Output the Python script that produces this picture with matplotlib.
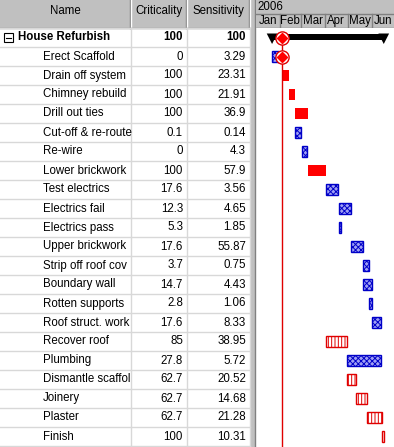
import matplotlib
matplotlib.use("Agg")
import matplotlib.pyplot as plt
from matplotlib.patches import Rectangle, Polygon

plt.rcParams['font.family'] = ['Liberation Sans', 'DejaVu Sans']
plt.rcParams['hatch.linewidth'] = 0.7

# table data
names = ['House Refurbish', 'Erect Scaffold', 'Drain off system', 'Chimney rebuild',
         'Drill out ties', 'Cut-off & re-route', 'Re-wire', 'Lower brickwork',
         'Test electrics', 'Electrics fail', 'Electrics pass', 'Upper brickwork',
         'Strip off roof cov', 'Boundary wall', 'Rotten supports', 'Roof struct. work',
         'Recover roof', 'Plumbing', 'Dismantle scaffol', 'Joinery', 'Plaster', 'Finish']
criticality = [100, 0, 100, 100, 100, 0.1, 0, 100, 17.6, 12.3, 5.3, 17.6, 3.7, 14.7,
               2.8, 17.6, 85, 27.8, 62.7, 62.7, 62.7, 100]
sensitivity = [100, 3.29, 23.31, 21.91, 36.9, 0.14, 4.3, 57.9, 3.56, 4.65, 1.85, 55.87,
               0.75, 4.43, 1.06, 8.33, 38.95, 5.72, 20.52, 14.68, 21.28, 10.31]

# gantt data: days from 1 Jan 2006 (tasks only, summary row excluded)
start_day = [21, 34, 43, 51, 51, 60, 68, 92, 109, 109, 124, 140, 140, 148, 152,
             92, 119, 119, 131, 145, 165]
end_day = [30, 43, 51, 68, 59, 67, 92, 107, 124, 111, 140, 148, 152, 152, 163,
           119, 163, 131, 145, 165, 167]
bar_kind = ['check', 'solid', 'solid', 'solid', 'check', 'check', 'solid', 'check',
            'check', 'check', 'check', 'check', 'check', 'check', 'check',
            'stripe', 'check', 'stripe', 'stripe', 'stripe', 'stripe']
status_day = 34
year = '2006'
months = ['Jan', 'Feb', 'Mar', 'Apr', 'May', 'Jun']
month_start = [0, 31, 59, 90, 120, 151, 181]

W, H = 394, 447
HDR = 28
ROW = 19
PX_DAY = 0.765
GX0 = 256
GREY = '#c0c0c0'
FS = 8.3

fig = plt.figure(figsize=(W / 100, H / 100), dpi=100)
base = fig.add_axes([0, 0, 1, 1])
base.set_xlim(0, W)
base.set_ylim(H, 0)
base.axis('off')

# table header
cols = [0, 131, 187, 250]
base.add_patch(Rectangle((0, 0), 250, HDR, color=GREY, lw=0))
for x in cols[1:]:
    base.plot([x - 1, x - 1], [0, HDR], color='#808080', lw=1)
    base.plot([x, x], [0, HDR], color='white', lw=1)
base.plot([0, 250], [HDR - 0.5, HDR - 0.5], color='#808080', lw=1)
base.text(65, 11, 'Name', ha='center', va='center', fontsize=FS)
base.text(159, 11, 'Criticality', ha='center', va='center', fontsize=FS)
base.text(218, 11, 'Sensitivity', ha='center', va='center', fontsize=FS)

# table body
n = len(names)
for i in range(n + 1):
    y = HDR + i * ROW
    base.plot([0, 250], [y, y], color='#d8d8d8', lw=1)
for x in cols[1:]:
    base.plot([x, x], [HDR, HDR + n * ROW], color='#d8d8d8', lw=1)

for i, (nm, c, s) in enumerate(zip(names, criticality, sensitivity)):
    yc = HDR + i * ROW + ROW / 2
    if i == 0:
        base.add_patch(Rectangle((4, yc - 4.5), 9, 9, fill=False, ec='black', lw=0.8))
        base.plot([6, 11], [yc, yc], color='black', lw=0.8)
        base.text(18, yc, nm, ha='left', va='center', fontsize=FS, fontweight='bold')
        base.text(183, yc, f'{c:g}', ha='right', va='center', fontsize=FS, fontweight='bold')
        base.text(246, yc, f'{s:g}', ha='right', va='center', fontsize=FS, fontweight='bold')
    else:
        base.text(43, yc, nm, ha='left', va='center', fontsize=FS)
        base.text(183, yc, f'{c:g}', ha='right', va='center', fontsize=FS)
        base.text(246, yc, f'{s:g}', ha='right', va='center', fontsize=FS)

# splitter
base.add_patch(Rectangle((250, 0), GX0 - 250, H, color=GREY, lw=0))
base.plot([GX0 - 1, GX0 - 1], [0, H], color='#808080', lw=1)

# gantt header
xmax = (W - GX0) / PX_DAY
hdr = fig.add_axes([GX0 / W, 1 - HDR / H, (W - GX0) / W, HDR / H])
hdr.set_xlim(0, xmax)
hdr.set_ylim(HDR, 0)
hdr.axis('off')
hdr.add_patch(Rectangle((0, 0), xmax, HDR, color=GREY, lw=0))
hdr.plot([0, xmax], [14, 14], color='#808080', lw=1)
hdr.plot([0, xmax], [HDR - 0.5, HDR - 0.5], color='#808080', lw=1)
hdr.text(1.5, 7, year, ha='left', va='center', fontsize=FS)
for m, a, b in zip(months, month_start[:-1], month_start[1:]):
    if a > 0:
        hdr.plot([a, a], [14, HDR], color='#808080', lw=1)
    hdr.text((a + b) / 2, 21, m, ha='center', va='center', fontsize=FS)

# gantt body
gx = fig.add_axes([GX0 / W, 0, (W - GX0) / W, (H - HDR) / H])
gx.set_xlim(0, xmax)
top = -(ROW / 2) / ROW
bottom = (H - HDR - ROW / 2) / ROW
gx.set_ylim(bottom, top)
gx.axis('off')

bh = 11 / ROW
for i, (a, b, k) in enumerate(zip(start_day, end_day, bar_kind)):
    row = i + 1
    if k == 'solid':
        gx.barh(row, b - a, left=a, height=bh, color='#ff0000', lw=0)
    elif k == 'check':
        gx.barh(row, b - a, left=a, height=bh, facecolor='#a0a0f4', edgecolor='#0000c8',
                hatch='xxxxxx', lw=1)
    else:
        gx.barh(row, b - a, left=a, height=bh, facecolor='white', edgecolor='#e00000',
                hatch='|||||', lw=1)

# summary bar
s0, s1 = min(start_day), max(end_day)
t0, t1 = -4 / ROW, 2 / ROW
gx.add_patch(Rectangle((s0, t0), s1 - s0, t1 - t0, color='black', lw=0))
tri = 7
for x in (s0, s1):
    gx.add_patch(Polygon([(x - tri, t0), (x + tri, t0), (x, 6.5 / ROW)], color='black', lw=0))

# status line and milestones
gx.plot([status_day, status_day], [0, bottom], color='#e00000', lw=1)
for row in (0, 1):
    gx.plot(status_day, row, marker='o', ms=9.5, mfc='white', mec='#e00000', mew=1)
    gx.plot(status_day, row, marker='D', ms=5, mfc='#ff0000', mec='#ff0000')

fig.savefig('out.png', dpi=100)
